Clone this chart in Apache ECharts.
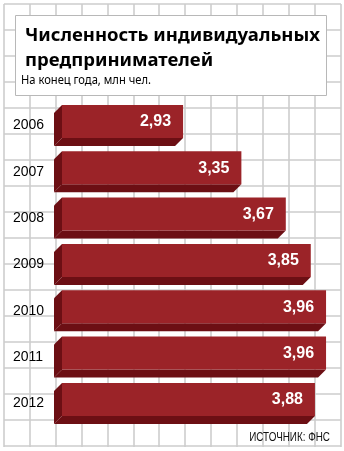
<!DOCTYPE html>
<html>
<head>
<meta charset="utf-8">
<script src="https://cdn.jsdelivr.net/npm/echarts@6/dist/echarts.min.js"></script>
<style>
  html, body { margin: 0; padding: 0; background: #fff; }
  #chart { width: 344px; height: 451px; }
</style>
</head>
<body>
<div id="chart"></div>
<script>
// Individual entrepreneurs, end of year, million people
const years = ['2006', '2007', '2008', '2009', '2010', '2011', '2012'];
const counts = [2.93, 3.35, 3.67, 3.85, 3.96, 3.96, 3.88];

const X_MIN = 2;
const X_MAX = 4;
const FRONT = '#9b2328';
const SIDE = '#6c0f14';
const DEPTH = 8;

const fmt = v => v.toFixed(2).replace('.', ',');

// Squared paper background
const paper = [];
const LINE = '#cdcdcd';
for (let i = 0; i <= 13; i++) {
  const x = Math.round(4 + i * 25.9);
  paper.push({ type: 'line', z: 0, silent: true,
    shape: { x1: x, y1: 4, x2: x, y2: 447 },
    style: { stroke: LINE, lineWidth: 1.6 } });
}
for (let j = 0; j <= 17; j++) {
  const y = 4 + j * 26;
  paper.push({ type: 'line', z: 0, silent: true,
    shape: { x1: 4, y1: y, x2: 341, y2: y },
    style: { stroke: LINE, lineWidth: 1.6 } });
}
// Heading card
paper.push({ type: 'rect', z: 1, silent: true,
  shape: { x: 15.5, y: 15.5, width: 311, height: 80 },
  style: { fill: '#fff', stroke: '#b8b8b8', lineWidth: 1 } });
// Units line under the heading (condensed)
paper.push({ type: 'text', z: 4, silent: true, x: 21, y: 80.5, scaleX: 0.86,
  style: { text: 'На конец года, млн чел.', x: 0, y: 0, align: 'left', verticalAlign: 'middle',
    fill: '#000', font: '13px "Noto Sans", sans-serif' } });
// Source note (condensed)
paper.push({ type: 'text', z: 3, silent: true, x: 330, y: 437, scaleX: 0.76,
  style: { text: 'ИСТОЧНИК: ФНС', x: 0, y: 0, align: 'right', verticalAlign: 'middle',
    fill: '#111', font: '13px "Liberation Sans", Arial, sans-serif' } });

function renderBar(params, api) {
  const cat = api.value(1);
  const v = api.value(0);
  const end = api.coord([v, cat]);
  const start = api.coord([X_MIN, cat]);
  const cy = end[1];
  const xL = start[0] + DEPTH;
  const xR = end[0];
  const yT = cy - 20.5;
  const yB = cy + 12.5;
  return {
    type: 'group',
    children: [
      { type: 'polygon', shape: { points: [[xL - DEPTH, yT + DEPTH], [xL, yT], [xL, yB], [xL - DEPTH, yB + DEPTH]] },
        style: { fill: SIDE } },
      { type: 'polygon', shape: { points: [[xL - DEPTH, yB + DEPTH], [xL, yB], [xR, yB], [xR - DEPTH, yB + DEPTH]] },
        style: { fill: SIDE } },
      { type: 'rect', shape: { x: xL, y: yT, width: xR - xL, height: yB - yT },
        style: { fill: FRONT } },
      { type: 'text', style: { text: fmt(v), x: xR - 12, y: (yT + yB) / 2 + 0.5, align: 'right', verticalAlign: 'middle',
        fill: '#fff', font: 'bold 16px "Liberation Sans", Arial, sans-serif' } }
    ]
  };
}

const chart = echarts.init(document.getElementById('chart'), null, { renderer: 'canvas' });
chart.setOption({
  backgroundColor: '#fff',
  animation: false,
  title: [
    { text: 'Численность индивидуальных\nпредпринимателей', left: 20, top: 18, z: 4,
      textStyle: { fontFamily: '"Noto Sans", sans-serif', fontWeight: 'bold', fontSize: 18.5, lineHeight: 25, color: '#000' } }
  ],
  graphic: paper,
  grid: { left: 54, right: 344 - 331.6, top: 102.3, bottom: 24.4, containLabel: false },
  xAxis: { type: 'value', min: X_MIN, max: X_MAX, show: false },
  yAxis: {
    type: 'category', data: years, inverse: true,
    axisLine: { show: false }, axisTick: { show: false }, splitLine: { show: false },
    axisLabel: { align: 'left', margin: 41, color: '#000', fontSize: 14,
      fontFamily: '"Liberation Sans", Arial, sans-serif' }
  },
  series: [{
    type: 'custom', z: 5,
    renderItem: renderBar,
    encode: { x: 0, y: 1 },
    data: counts.map((v, i) => [v, i])
  }]
});
</script>
</body>
</html>
